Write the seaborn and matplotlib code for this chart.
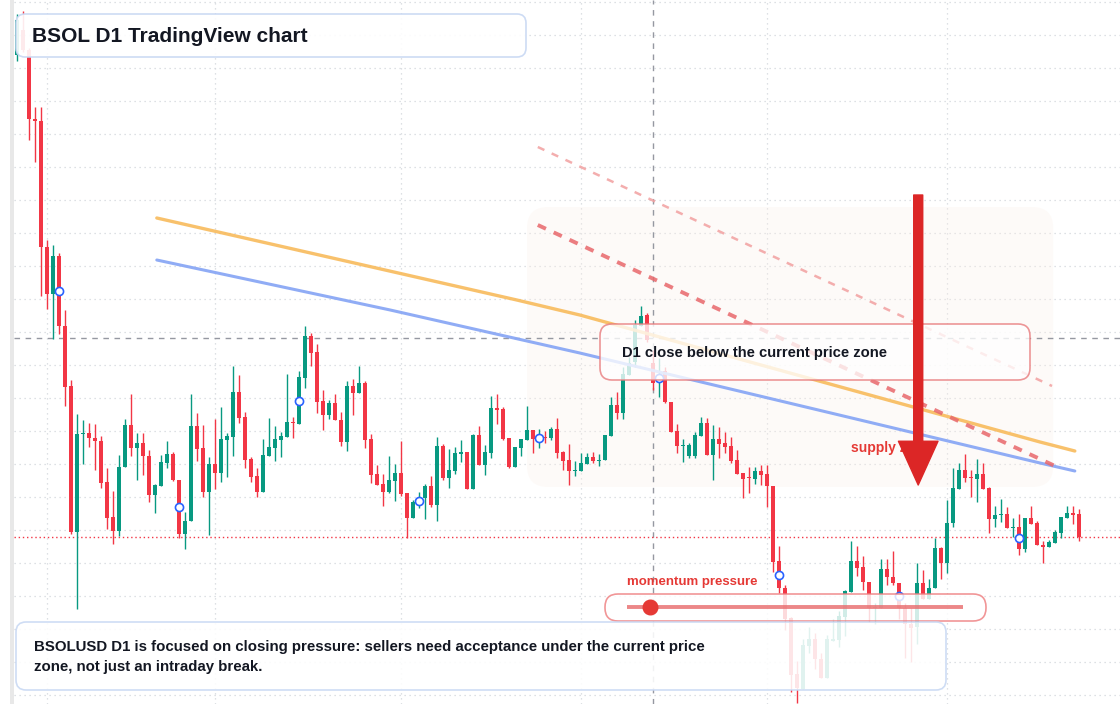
import numpy as np
import pandas as pd
import matplotlib
matplotlib.use("Agg")
import matplotlib.pyplot as plt
import matplotlib.transforms as mtransforms
from matplotlib.patches import FancyBboxPatch, FancyArrowPatch, ArrowStyle, Rectangle
import seaborn as sns

# daily OHLC (oldest first)
opens = [372.5, 385, 375, 340.5, 339.5, 276.5, 253, 272, 237, 207,
         134, 183, 183.5, 181, 179.5, 159, 141.5, 134.5, 166.5, 187.5,
         176, 178.5, 172, 152.5, 157, 168.5, 173, 160, 133, 139.5,
         187, 176, 154, 168, 163.5, 180, 181.5, 204, 191.5, 170.5,
         162, 154, 172, 176, 180, 181.5, 189, 188, 211, 232,
         224, 199.5, 192.5, 198.5, 190, 179, 207, 203.5, 208.5, 180.5,
         163, 158, 154, 159.5, 163.5, 153.5, 141, 149, 151, 157,
         147.5, 177, 161, 164.5, 173, 174, 155.5, 182.5, 167.5, 173.5,
         196, 195.5, 181, 166.5, 176, 180, 185, 181, 181.5, 181,
         185.5, 174, 170, 164.5, 164.5, 168, 171.5, 169.5, 170, 182,
         197.5, 193.5, 212.5, 219, 237, 242.5, 218.5, 210, 214.5, 199,
         184.5, 177, 172, 172, 182, 188.5, 172.5, 180.5, 178.5, 177,
         170, 163.5, 161.5, 160.5, 164.5, 163, 157, 119.5, 106, 91,
         63, 55.5, 77, 80.5, 70.5, 61, 79.5, 80, 91.5, 104,
         119.5, 116.5, 109, 96, 96, 115.5, 111.5, 108.5, 96, 88,
         86.5, 108.5, 100.5, 106, 126, 118.5, 138.5, 155.5, 165, 161.5,
         160.5, 163, 156, 140.5, 142.5, 143, 136, 136.5, 125.5, 141,
         138.5, 127.5, 126.5, 128.5, 133.5, 141, 143.5, 143]
highs = [393, 394.5, 376, 346.5, 346.5, 280, 277.5, 273.5, 245, 210,
         193, 190, 188.5, 188, 182, 166, 154.5, 172.5, 190.5, 203,
         183.5, 183.5, 175, 158, 172.5, 179.5, 174, 160, 144, 203,
         193.5, 187.5, 171.5, 190.5, 196.5, 183.5, 217, 212.5, 194, 171.5,
         166, 180.5, 191, 187, 184, 213, 191.5, 214.5, 237, 233.5,
         228, 205, 200, 203, 194, 209.5, 210.5, 217, 209.5, 183,
         167.5, 163, 172, 168, 179.5, 153.5, 150, 154, 158, 162,
         181.5, 178, 175.5, 176.5, 180, 174, 183, 187, 177.5, 202,
         203, 196.5, 181, 176.5, 180.5, 197, 185, 185.5, 184.5, 186.5,
         191, 174.5, 178, 169.5, 173.5, 173.5, 174, 173, 182.5, 201.5,
         204, 216.5, 221.5, 240, 247, 243.5, 225, 221, 216.5, 199,
         188, 180.5, 178.5, 184, 191.5, 191, 187.5, 186.5, 184, 181.5,
         175, 163.5, 166.5, 166.5, 167.5, 167.5, 157, 127, 107.5, 91.5,
         69.5, 80.5, 86.5, 83.5, 73.5, 82.5, 90.5, 94.5, 105, 129.5,
         127, 122, 109, 98.5, 120.5, 120.5, 124.5, 108.5, 98.5, 96,
         118.5, 115, 110.5, 131, 126.5, 150, 166, 168.5, 173, 165,
         170.5, 168.5, 156.5, 147, 150.5, 146.5, 141, 143, 141, 147,
         139.5, 129.5, 130, 135, 141.5, 147, 147, 145.5]
lows = [369.5, 374, 330, 319, 252, 245.5, 230.5, 233, 197, 133,
        95.5, 168, 176.5, 165, 156, 135.5, 128, 132, 166.5, 172,
        160, 162.5, 149, 143.5, 157, 166, 159.5, 131, 125.5, 139.5,
        169.5, 151.5, 132.5, 155.5, 159, 161.5, 172, 188.5, 166, 159,
        151.5, 154, 172, 169.5, 171.5, 181.5, 181, 188, 206, 217,
        193.5, 185, 190.5, 190, 177, 174.5, 192.5, 203.5, 176, 158.5,
        157.5, 147, 153.5, 149.5, 152, 131, 141, 146, 140.5, 146.5,
        139.5, 160, 156, 163, 169, 155.5, 155.5, 167.5, 162.5, 171,
        188, 180, 166, 166.5, 172, 180, 173.5, 176, 178.5, 180,
        171, 165, 157.5, 162, 164.5, 168, 168.5, 167, 170, 182,
        190.5, 190.5, 212.5, 216.5, 237, 229, 205, 201.5, 198.5, 184,
        173.5, 169, 171, 171, 182, 172.5, 160, 171, 173.5, 168.5,
        163, 151, 153.5, 158, 157.5, 146.5, 114, 103.5, 85, 54,
        48.5, 55.5, 73.5, 65.5, 61, 61, 79.5, 76.5, 82, 104,
        112, 105, 89, 88, 96, 107.5, 107.5, 90.5, 71, 69,
        78, 100.5, 100.5, 106, 110.5, 113.5, 136.5, 155.5, 159, 151.5,
        149, 155.5, 133.5, 136.5, 139, 136, 131.5, 122.5, 124, 138,
        127.5, 118.5, 126.5, 128.5, 131, 141, 138, 129.5]
closes = [390, 375, 340.5, 339.5, 276.5, 253, 272, 237, 206.5, 134,
          183, 183.5, 181, 179.5, 158.5, 141, 134.5, 166.5, 187.5, 176,
          178.5, 172, 152.5, 157.5, 169, 173, 160, 133, 139.5, 187,
          175.5, 154, 168, 163.5, 180.5, 182, 204, 191, 170, 161.5,
          154, 172.5, 176.5, 180.5, 182, 189, 188.5, 211.5, 232, 223.5,
          199, 192.5, 198.5, 190, 179, 207, 203.5, 208.5, 180, 162.5,
          157.5, 154, 160, 163.5, 153, 141, 149, 150.5, 157, 147.5,
          177, 161, 165, 173.5, 174, 155.5, 182.5, 167.5, 174, 196,
          195, 180.5, 166.5, 176.5, 180.5, 185, 180.5, 181.5, 181, 185.5,
          173.5, 169.5, 164.5, 165, 168.5, 171.5, 169.5, 170, 182.5, 197.5,
          193.5, 213, 218.5, 237.5, 242, 230, 208.5, 212, 199, 184,
          177, 177.5, 177.5, 182.5, 188.5, 172.5, 180.5, 178, 176.5, 169.5,
          163, 160.5, 161, 164.5, 162.5, 157, 119, 106, 90.5, 62.5,
          56, 77.5, 80.5, 70.5, 61, 80.5, 80.5, 92, 104.5, 119.5,
          116, 109, 96, 96.5, 115.5, 111.5, 108.5, 96, 88, 86,
          108.5, 100.5, 106, 126, 118.5, 138.5, 156, 165, 161, 161,
          163, 155.5, 140.5, 142.5, 143, 136, 136.5, 125.5, 141, 138,
          127.5, 126.5, 129, 134, 141.5, 143.5, 142.5, 131.5]

# overlay studies: (bar, price) points
slow_ma_bar = [23.3, 83.3, 93.8, 170.5, 176.3]
slow_ma_px = [291, 250, 242.5, 179, 174.5]
fast_ma_bar = [23.3, 62.2, 93.8, 170.5, 176.3]
fast_ma_px = [270, 245, 223.5, 168.5, 164.5]
trend_bar = [86.8, 173]
trend_px = [287.5, 167]
upper_trend_bar = [86.8, 172.5]
upper_trend_px = [326.5, 207]
zone_bars = [85, 172.7]
zone_prices = [156.5, 296.5]
crosshair_bar = 106
crosshair_price = 231
month_bars = [5, 33, 64, 94, 125, 155]
arrow_bar = 150.2
arrow_prices = [302.5, 157.5]

df = pd.DataFrame({"open": opens, "high": highs, "low": lows, "close": closes})
df["bar"] = np.arange(len(df))
up = df["close"] >= df["open"]

sns.set_theme(style="white")
plt.rcParams["font.family"] = ["Liberation Sans", "DejaVu Sans"]

W, H = 1120, 704
fig = plt.figure(figsize=(W / 100, H / 100), dpi=100)
fig.patch.set_facecolor("white")
fig.patches.append(Rectangle((10 / W, 0), 4 / W, 1, transform=fig.transFigure,
                             facecolor="#e8e8e8", edgecolor="none"))
ax = fig.add_axes([14 / W, 0, (W - 14) / W, 1])
ax.set_xlim(-0.5, 183.83)
ax.set_ylim(48, 400)
ax.set_facecolor("white")
for s in ax.spines.values():
    s.set_visible(False)
ax.set_xticks([])
ax.set_yticks([])

# pixel space (y down) for the UI boxes
pix = mtransforms.Affine2D().scale(1, -1).translate(0, H) + \
    mtransforms.Affine2D().scale(1 / W, 1 / H) + fig.transFigure

# grid
for p in np.arange(399.15, 48, -16.5):
    ax.axhline(p, color="#d3d6dc", lw=0.9, ls=(0, (1, 3)), zorder=0)
for b in month_bars:
    ax.axvline(b, color="#d3d6dc", lw=0.9, ls=(0, (1, 3)), zorder=0)

# supply zone shading
zone = FancyBboxPatch((zone_bars[0], zone_prices[0]), zone_bars[1] - zone_bars[0],
                      zone_prices[1] - zone_prices[0],
                      boxstyle="round,pad=0,rounding_size=3.5", mutation_aspect=3,
                      facecolor="#fbf0e8", edgecolor="none", alpha=0.3, zorder=1)
ax.add_patch(zone)

# crosshair + last price
ax.axhline(crosshair_price, color="#9598a1", lw=1, ls=(0, (4, 4)), zorder=2)
ax.axvline(crosshair_bar, color="#9598a1", lw=1, ls=(0, (4, 4)), zorder=2)
ax.axhline(df["close"].iloc[-1], color="#f23645", lw=1, ls=(0, (1, 2)), zorder=2)

# candles
green, red = "#089981", "#f23645"
colors = np.where(up, green, red)
ax.vlines(df["bar"], df["low"], df["high"], colors=colors, lw=1, zorder=3)
body_low = np.minimum(df["open"], df["close"])
body_h = np.maximum((df["close"] - df["open"]).abs(), 0.7)
ax.bar(df["bar"], body_h, bottom=body_low, width=0.82, color=colors, lw=0, zorder=3)

# moving averages and trend lines
sns.lineplot(x=slow_ma_bar, y=slow_ma_px, ax=ax, color="#f8bb5c", lw=2.4, alpha=0.9,
             sort=False, zorder=4)
sns.lineplot(x=fast_ma_bar, y=fast_ma_px, ax=ax, color="#8aa8f5", lw=2.2, alpha=0.95,
             sort=False, zorder=4)
ax.plot(trend_bar, trend_px, color="#e8676b", lw=2.8, ls=(0, (2.3, 2.2)), alpha=0.85, zorder=4)
ax.plot(upper_trend_bar, upper_trend_px, color="#f2a0a0", lw=1.8, ls=(0, (2.9, 3.2)),
        alpha=0.85, zorder=4)

# session markers every 20 bars at body midpoint
marks = df.iloc[7::20]
sns.scatterplot(x=marks["bar"], y=(marks["open"] + marks["close"]) / 2, ax=ax, s=34,
                facecolor="white", edgecolor="#2962ff", linewidth=1.2, zorder=5)

# title box
ax.add_patch(FancyBboxPatch((16, 14), 510, 43, boxstyle="round,pad=0,rounding_size=9",
                            transform=pix, facecolor="white", alpha=0.9,
                            edgecolor="#c8d8f3", lw=1.2, zorder=6))
ax.text(32, 36, "BSOL D1 TradingView chart", transform=pix, fontsize=15,
        fontweight="bold", color="#131722", va="center", ha="left", zorder=7)

# signal box
ax.add_patch(FancyBboxPatch((600, 324), 430, 56, boxstyle="round,pad=0,rounding_size=12",
                            transform=pix, facecolor="white", alpha=0.78,
                            edgecolor="#e8797b", lw=1.2, zorder=6))
ax.text(622, 353, "D1 close below the current price zone", transform=pix, fontsize=10.6,
        fontweight="bold", color="#131722", va="center", ha="left", zorder=7)

# supply zone label + arrow
ax.text(851, 448, "supply zone", transform=pix, fontsize=10, fontweight="bold",
        color="#e53935", va="center", ha="left", zorder=7)
arrow = FancyArrowPatch((arrow_bar, arrow_prices[0]), (arrow_bar, arrow_prices[1]),
                        arrowstyle=ArrowStyle.Simple(head_length=31.5, head_width=28.5,
                                                     tail_width=6.5),
                        mutation_scale=1, shrinkA=0, shrinkB=0, color="#dc2626", zorder=8)
ax.add_patch(arrow)

# momentum gauge
ax.text(627, 582, "momentum pressure", transform=pix, fontsize=9.5, fontweight="bold",
        color="#e53935", va="center", ha="left", zorder=7)
ax.add_patch(FancyBboxPatch((605, 594), 381, 27, boxstyle="round,pad=0,rounding_size=13",
                            transform=pix, facecolor="white", alpha=0.82,
                            edgecolor="#ee7f80", lw=1.2, zorder=6))
ax.plot([627, 963], [607, 607], transform=pix, color="#e8696b", lw=2.8, alpha=0.8,
        solid_capstyle="butt", zorder=7)
ax.plot([650], [607], transform=pix, marker="o", ms=10.5, color="#e53935", zorder=7)

# commentary box
ax.add_patch(FancyBboxPatch((16, 622), 930, 68, boxstyle="round,pad=0,rounding_size=10",
                            transform=pix, facecolor="white", alpha=0.88,
                            edgecolor="#c8d8f3", lw=1.2, zorder=6))
ax.text(34, 647, "BSOLUSD D1 is focused on closing pressure: sellers need acceptance under the current price",
        transform=pix, fontsize=10.8, fontweight="bold", color="#131722", va="center",
        ha="left", zorder=7)
ax.text(34, 667, "zone, not just an intraday break.", transform=pix, fontsize=10.8,
        fontweight="bold", color="#131722", va="center", ha="left", zorder=7)

fig.savefig("out.png", dpi=100)
